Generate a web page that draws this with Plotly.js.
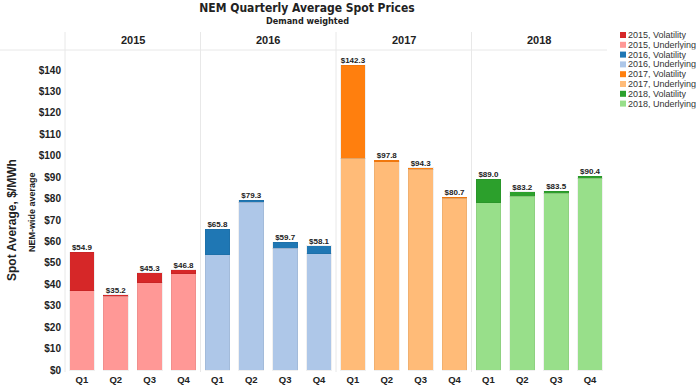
<!DOCTYPE html>
<html>
<head>
<meta charset="utf-8">
<script src="https://cdn.plot.ly/plotly-3.0.1.min.js"></script>
<style>html,body{margin:0;padding:0;background:#fff;}#chart{width:700px;height:390px;}</style>
</head>
<body>
<div id="chart"></div>
<script>
const quarters = ['Q1', 'Q2', 'Q3', 'Q4'];
const years = ['2015', '2016', '2017', '2018'];
const total2015 = [54.9, 35.2, 45.3, 46.8];
const under2015 = [37.0, 34.5, 40.8, 44.9];
const total2016 = [65.8, 79.3, 59.7, 58.1];
const under2016 = [53.8, 78.4, 56.9, 54.2];
const total2017 = [142.3, 97.8, 94.3, 80.7];
const under2017 = [98.9, 97.3, 93.8, 80.2];
const total2018 = [89.0, 83.2, 83.5, 90.4];
const under2018 = [78.1, 81.2, 82.5, 89.6];
const volColors = ['#d62728', '#1f77b4', '#ff7f0e', '#2ca02c'];
const underColors = ['#ff9896', '#aec7e8', '#ffbb78', '#98df8a'];
const yTickVals = [0, 10, 20, 30, 40, 50, 60, 70, 80, 90, 100, 110, 120, 130, 140];

const totals = [total2015, total2016, total2017, total2018];
const unders = [under2015, under2016, under2017, under2018];

// layout geometry (pixels)
const W = 700, H = 390, ML = 65, MR = 93, MT = 50, MB = 18;
const PW = W - ML - MR, PH = H - MT - MB;
const px = x => (x - ML) / PW;
const py = y => (H - MB - y) / PH;

const traces = [];
years.forEach((yr, i) => {
  const xa = i === 0 ? 'x' : 'x' + (i + 1);
  const vol = totals[i].map((t, k) => +(t - unders[i][k]).toFixed(2));
  traces.push({
    type: 'bar', x: quarters, y: unders[i], xaxis: xa, yaxis: 'y',
    name: yr + ', Underlying', showlegend: false, hoverinfo: 'skip',
    marker: {color: underColors[i], line: {color: 'rgba(0,0,0,0.06)', width: 1}}
  });
  traces.push({
    type: 'bar', x: quarters, y: vol, xaxis: xa, yaxis: 'y',
    name: yr + ', Volatility', showlegend: false, hoverinfo: 'skip',
    marker: {color: volColors[i], line: {color: 'rgba(0,0,0,0.06)', width: 1}}
  });
  traces.push({
    type: 'scatter', mode: 'text', x: quarters, y: totals[i], xaxis: xa, yaxis: 'y',
    text: totals[i].map(t => '$' + t.toFixed(1)), textposition: 'top center',
    textfont: {family: 'Arial, Liberation Sans', size: 8, color: '#222', weight: 700},
    cliponaxis: false, showlegend: false, hoverinfo: 'skip'
  });
});

const layout = {
  width: W, height: H,
  margin: {l: ML, r: MR, t: MT, b: MB},
  paper_bgcolor: '#fff', plot_bgcolor: '#fff',
  barmode: 'stack', bargap: 0.27,
  showlegend: false,
  title: {
    text: 'NEM Quarterly Average Spot Prices',
    font: {family: 'DejaVu Sans Condensed, DejaVu Sans', size: 12, color: '#222', weight: 700},
    x: 307 / W, xanchor: 'center', xref: 'container',
    y: 1 - 8 / H, yanchor: 'middle', yref: 'container'
  },
  yaxis: {
    range: [-0.9, -0.9 + PH / 2.143], tickvals: yTickVals,
    ticktext: yTickVals.map(v => '$' + v), showgrid: false, zeroline: false,
    showline: false, ticks: '', ticklabelstandoff: 3,
    tickfont: {family: 'Arial, Liberation Sans', size: 10, color: '#222', weight: 700}
  },
  shapes: [], annotations: []
};

years.forEach((yr, i) => {
  const key = i === 0 ? 'xaxis' : 'xaxis' + (i + 1);
  layout[key] = {
    domain: [i / 4, (i + 1) / 4], anchor: 'y', type: 'category',
    showgrid: false, zeroline: false, showline: false, ticks: '',
    tickfont: {family: 'Arial, Liberation Sans', size: 9.5, color: '#222', weight: 700}
  };
  layout.annotations.push({
    text: yr, xref: 'paper', yref: 'paper', x: (i + 0.5) / 4, y: py(40),
    xanchor: 'center', yanchor: 'middle', showarrow: false,
    font: {family: 'Arial, Liberation Sans', size: 11, color: '#222', weight: 700}
  });
  layout.shapes.push({
    type: 'line', xref: 'paper', yref: 'paper', x0: i / 4, x1: i / 4,
    y0: 0, y1: py(32), line: {color: '#e8e8e8', width: 1}
  });
});
layout.shapes.push({
  type: 'line', xref: 'paper', yref: 'paper', x0: px(0), x1: 1, y0: 1, y1: 1,
  line: {color: '#e8e8e8', width: 1}
});

// subtitle
layout.annotations.push({
  text: 'Demand weighted', xref: 'paper', yref: 'paper', x: px(307), y: py(21),
  xanchor: 'center', yanchor: 'middle', showarrow: false,
  font: {family: 'DejaVu Sans Condensed, DejaVu Sans', size: 9, color: '#222', weight: 700}
});
// y titles
layout.annotations.push({
  text: 'Spot Average, $/MWh', xref: 'paper', yref: 'paper', x: px(12), y: py(220),
  xanchor: 'center', yanchor: 'middle', textangle: -90, showarrow: false,
  font: {family: 'Arial, Liberation Sans', size: 12, color: '#222', weight: 700}
});
layout.annotations.push({
  text: 'NEM-wide average', xref: 'paper', yref: 'paper', x: px(32), y: py(212),
  xanchor: 'center', yanchor: 'middle', textangle: -90, showarrow: false,
  font: {family: 'Arial, Liberation Sans', size: 9, color: '#222', weight: 700}
});

// manual compact legend
const legendNames = [], legendColors = [];
years.forEach((yr, i) => {
  legendNames.push(yr + ', Volatility'); legendColors.push(volColors[i]);
  legendNames.push(yr + ', Underlying'); legendColors.push(underColors[i]);
});
legendNames.forEach((nm, k) => {
  const cy = 35 + k * 9.8;
  layout.shapes.push({
    type: 'rect', xref: 'paper', yref: 'paper',
    x0: px(620), x1: px(626), y0: py(cy + 3), y1: py(cy - 3),
    fillcolor: legendColors[k], line: {width: 0}
  });
  layout.annotations.push({
    text: nm, xref: 'paper', yref: 'paper', x: px(627), y: py(cy),
    xanchor: 'left', yanchor: 'middle', showarrow: false,
    height: 9.6, borderpad: 0,
    font: {family: 'Arial, Liberation Sans', size: 9, color: '#333'}
  });
});

Plotly.newPlot('chart', traces, layout, {staticPlot: true, displayModeBar: false});
</script>
</body>
</html>
